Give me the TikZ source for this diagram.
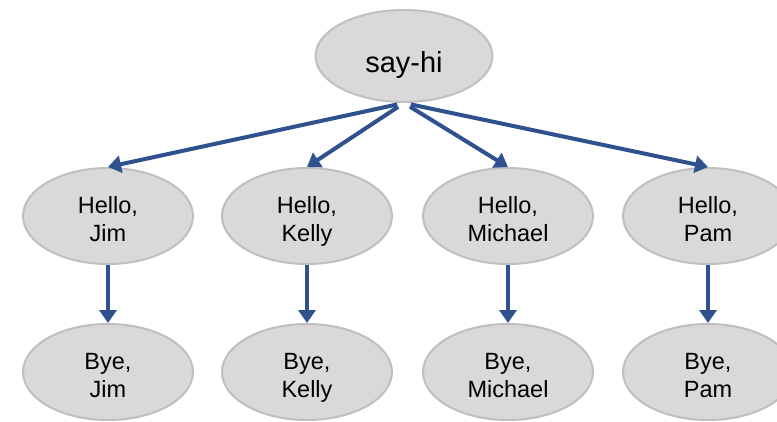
\documentclass[tikz,border=0pt]{standalone}
\usepackage{fontspec}
\setmainfont{Liberation Sans}
\usetikzlibrary{shapes.geometric,arrows.meta}
\definecolor{arrowblue}{RGB}{47,82,143}
\definecolor{nodefill}{RGB}{217,217,217}
\definecolor{nodeline}{RGB}{191,191,191}
\tikzset{
  bubble/.style={ellipse, draw=nodeline, line width=2pt, fill=nodefill,
    minimum width=170pt, minimum height=96pt, inner sep=0pt, align=center,
    text height=50pt, text depth=0pt,
    font=\fontsize{23.5}{28}\selectfont},
  topbubble/.style={ellipse, draw=nodeline, line width=2pt, fill=nodefill,
    minimum width=177pt, minimum height=92pt, inner sep=0pt,
    text height=32pt, text depth=0pt,
    font=\fontsize{29}{34}\selectfont},
  link/.style={draw=arrowblue, line width=4pt,
    -{Triangle[width=17pt,length=13pt]}},
}
\begin{document}
\begin{tikzpicture}[x=1pt,y=-1pt]
\useasboundingbox (0,0) rectangle (777,421);
\node[topbubble] (top) at (404,56) {say-hi};
\node[bubble] (h1) at (108,216) {Hello,\\Jim};
\node[bubble] (h2) at (307,216) {Hello,\\Kelly};
\node[bubble] (h3) at (508,216) {Hello,\\Michael};
\node[bubble] (h4) at (708,216) {Hello,\\Pam};
\node[bubble] (b1) at (108,372) {Bye,\\Jim};
\node[bubble] (b2) at (307,372) {Bye,\\Kelly};
\node[bubble] (b3) at (508,372) {Bye,\\Michael};
\node[bubble] (b4) at (708,372) {Bye,\\Pam};
\foreach \i in {1,2,3,4} {
  \draw[link, shorten <=7pt] (top.south) -- (h\i.north);
  \draw[link] (h\i.south) -- (b\i.north);
}
\end{tikzpicture}
\end{document}
